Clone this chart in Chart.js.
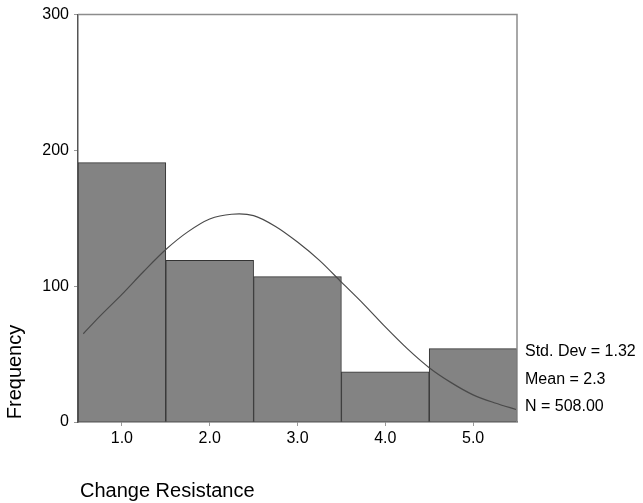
<!DOCTYPE html>
<html>
<head>
<meta charset="utf-8">
<script src="https://cdn.jsdelivr.net/npm/chart.js@4/dist/chart.umd.min.js"></script>
<style>
  html, body { margin: 0; padding: 0; background: #ffffff; }
  #wrap { width: 643px; height: 503px; position: relative; }
</style>
</head>
<body>
<div id="wrap"><canvas id="c" width="643" height="503"></canvas></div>
<script>
// Histogram bins (bin centres) and their frequencies
const binCentres = [1, 2, 3, 4, 5];
const frequencies = [191, 119, 107, 37, 54];

// Fitted normal curve, sampled along the x axis
const curveX = [0.56, 0.75, 1.0, 1.25, 1.5, 1.75, 2.0, 2.25, 2.5, 2.75, 3.0, 3.25, 3.5, 3.75, 4.0, 4.25, 4.5, 4.75, 5.0, 5.25, 5.5];
const curveY = [65, 78, 94, 111, 127, 140, 149.5, 153, 152, 144, 132.5, 119, 103, 87, 70, 54, 40, 29, 20, 14, 9];

// Axis ticks
const xTicks = [1, 2, 3, 4, 5];
const yTicks = [0, 100, 200, 300];

// Summary statistics shown beside the plot
const statLines = ['Std. Dev = 1.32', 'Mean = 2.3', 'N = 508.00'];

const FONT = '"Liberation Sans", Arial, sans-serif';

const barData = binCentres.map((x, i) => ({ x: x, y: frequencies[i] }));
const curveData = curveX.map((x, i) => ({ x: x, y: curveY[i] }));

const annotations = {
  id: 'annotations',
  afterDraw(chart) {
    const ctx = chart.ctx;
    const a = chart.chartArea;
    ctx.save();
    // frame top and right edges
    ctx.strokeStyle = '#8c8c8c';
    ctx.lineWidth = 1.5;
    ctx.beginPath();
    ctx.moveTo(a.left, a.top);
    ctx.lineTo(a.right, a.top);
    ctx.lineTo(a.right, a.bottom);
    ctx.stroke();

    ctx.fillStyle = '#000000';
    // statistics block
    ctx.font = '16px ' + FONT;
    ctx.textAlign = 'left';
    ctx.textBaseline = 'middle';
    statLines.forEach((t, i) => {
      ctx.fillText(t, a.right + 8, a.bottom - 70 + i * 27.5);
    });

    // x axis title
    ctx.font = '20px ' + FONT;
    ctx.fillText('Change Resistance', a.left + 2, a.bottom + 69);

    // y axis title
    ctx.translate(15, a.bottom - 50);
    ctx.rotate(-Math.PI / 2);
    ctx.textAlign = 'center';
    ctx.fillText('Frequency', 0, 0);
    ctx.restore();
  }
};

new Chart(document.getElementById('c'), {
  type: 'bar',
  data: {
    datasets: [
      {
        type: 'line',
        data: curveData,
        borderColor: '#4a4a4a',
        borderWidth: 1.2,
        pointRadius: 0,
        tension: 0.3,
        fill: false,
        order: 0
      },
      {
        type: 'bar',
        data: barData,
        backgroundColor: '#838383',
        borderColor: '#333333',
        borderWidth: 1,
        barPercentage: 1.0,
        categoryPercentage: 1.0,
        grouped: false,
        order: 1
      }
    ]
  },
  plugins: [annotations],
  options: {
    responsive: false,
    animation: false,
    events: [],
    layout: { padding: { top: 7, right: 126, left: 0, bottom: 0 } },
    plugins: {
      legend: { display: false },
      tooltip: { enabled: false }
    },
    scales: {
      x: {
        type: 'linear',
        offset: false,
        min: 0.5,
        max: 5.5,
        afterBuildTicks(axis) { axis.ticks = xTicks.map(v => ({ value: v })); },
        afterFit(axis) { axis.height = 81; },
        grid: { drawOnChartArea: false, drawTicks: true, tickLength: 4, color: '#999999', offset: false },
        border: { display: true, color: '#555555', width: 1.5 },
        ticks: {
          color: '#000000',
          font: { family: FONT, size: 16 },
          padding: 3,
          maxRotation: 0,
          callback: v => Number(v).toFixed(1)
        }
      },
      y: {
        type: 'linear',
        min: 0,
        max: 300,
        afterBuildTicks(axis) { axis.ticks = yTicks.map(v => ({ value: v })); },
        afterFit(axis) { axis.width = 78; },
        grid: { drawOnChartArea: false, drawTicks: true, tickLength: 4, color: '#999999' },
        border: { display: true, color: '#555555', width: 1.5 },
        ticks: {
          color: '#000000',
          font: { family: FONT, size: 16 },
          padding: 5
        }
      }
    }
  }
});
</script>
</body>
</html>
